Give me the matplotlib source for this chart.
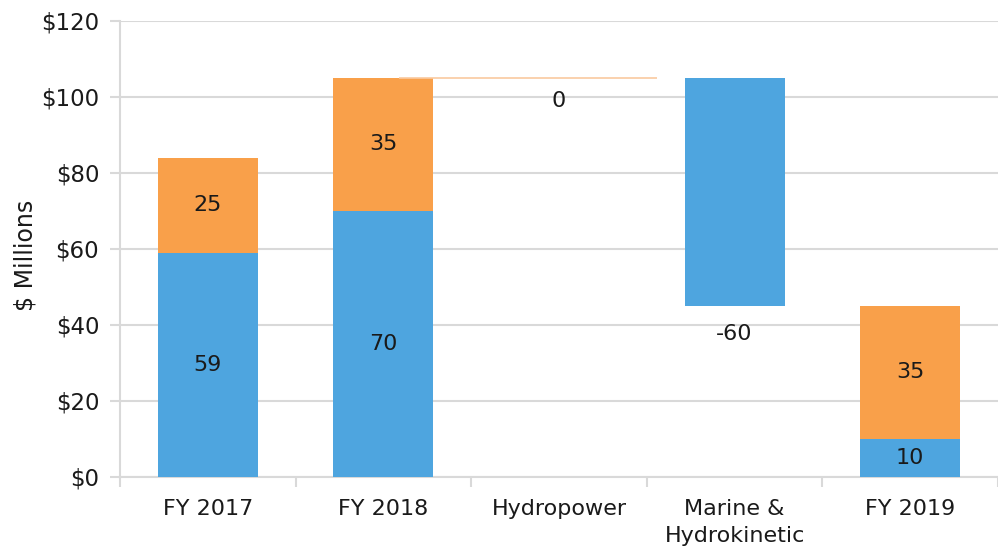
import matplotlib
matplotlib.use("Agg")
import matplotlib.pyplot as plt
import numpy as np

categories = ["FY 2017", "FY 2018", "Hydropower", "Marine &\nHydrokinetic", "FY 2019"]
blue_bottom = [0, 0, 105, 45, 0]
blue_vals = [59, 70, 0, 60, 10]
orange_vals = [25, 35, 0, 0, 35]
labels_blue = ["59", "70", "", "-60", "10"]
labels_orange = ["25", "35", "0", "", "35"]

BLUE = "#4EA5DF"
ORANGE = "#F9A04A"
GRID = "#D9D9D9"
TXT = "#1a1a1a"

plt.rcParams["font.family"] = ["DejaVu Sans"]

fig = plt.figure(figsize=(9.98, 5.48), dpi=100)
ax = fig.add_axes([0.1203, 0.1296, 0.8797, 0.8321])

x = np.arange(len(categories))
w = 0.57
bb = np.array(blue_bottom)
bv = np.array(blue_vals)
ov = np.array(orange_vals)

ax.bar(x, bv, w, bottom=bb, color=BLUE, zorder=3)
ax.bar(x, ov, w, bottom=bb + bv, color=ORANGE, zorder=3)

# zero-height hydropower step
ax.hlines(105, 1.09, 2.56, color="#FAC9A0", lw=1.2, zorder=3)

fs = 16
for i in range(len(x)):
    if labels_blue[i] == "-60":
        ax.text(x[i], bb[i] - 7.4, labels_blue[i], ha="center", va="center", fontsize=fs, color=TXT, zorder=4)
    elif labels_blue[i]:
        ax.text(x[i], bb[i] + bv[i] / 2, labels_blue[i], ha="center", va="center", fontsize=fs, color=TXT, zorder=4)
    if labels_orange[i] == "0":
        ax.text(x[i], 105 - 6, labels_orange[i], ha="center", va="center", fontsize=fs, color=TXT, zorder=4)
    elif labels_orange[i]:
        top = bb[i] + bv[i]
        ax.text(x[i], top + ov[i] / 2, labels_orange[i], ha="center", va="center", fontsize=fs, color=TXT, zorder=4)

ax.set_xlim(-0.5, len(categories) - 0.5)
ax.set_ylim(0, 120)
ax.set_yticks(np.arange(0, 121, 20))
ax.set_yticklabels(["$%d" % v for v in range(0, 121, 20)], fontsize=16.5, color=TXT)
ax.set_xticks(np.arange(-0.5, len(categories), 1.0))
ax.set_xticklabels([])
ax.set_xticks(x, minor=True)
ax.set_xticklabels(categories, minor=True, fontsize=fs, color=TXT, linespacing=1.4)
ax.tick_params(axis="x", which="minor", length=0, pad=16)
ax.tick_params(axis="x", which="major", length=7, color=GRID, width=1.5)
ax.tick_params(axis="y", length=7, color=GRID, width=1.5, pad=8)

ax.grid(axis="y", color=GRID, lw=1.5, zorder=0)
for s in ["top", "right"]:
    ax.spines[s].set_visible(False)
ax.spines["left"].set_color(GRID)
ax.spines["bottom"].set_color(GRID)
ax.spines["left"].set_linewidth(1.5)
ax.spines["bottom"].set_linewidth(1.5)

ax.set_ylabel("$ Millions", fontsize=17, color=TXT)
ax.yaxis.set_label_coords(-0.094, 0.485)

fig.savefig("out.png", dpi=100)
